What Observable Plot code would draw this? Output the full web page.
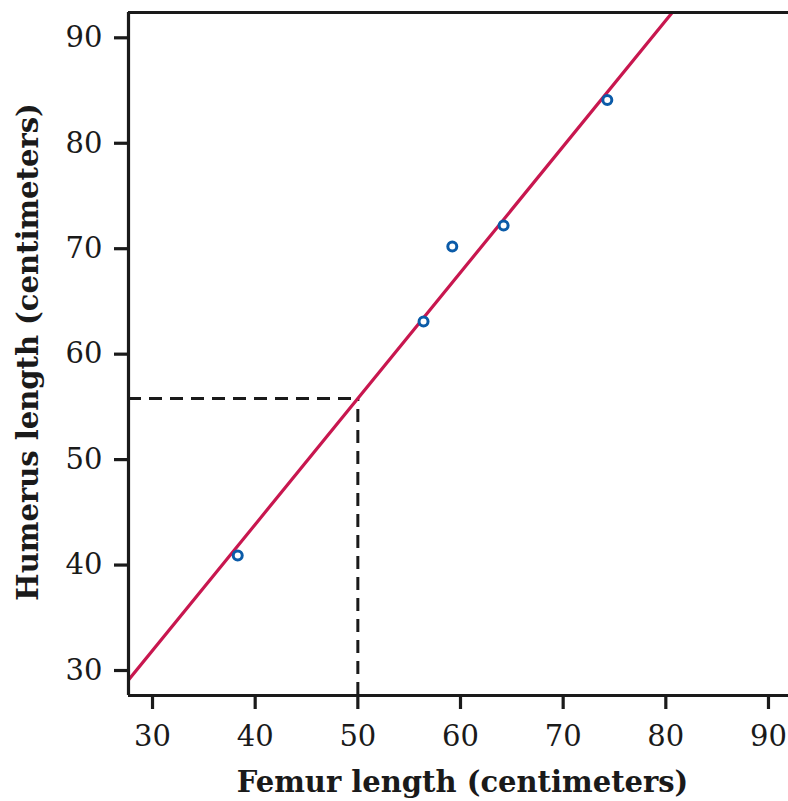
<!DOCTYPE html>
<html>
<head>
<meta charset="utf-8">
<script src="https://cdn.jsdelivr.net/npm/d3@7"></script>
<script src="https://cdn.jsdelivr.net/npm/@observablehq/plot@0.6"></script>
<style>
  html, body { margin: 0; padding: 0; background: #fff; }
</style>
</head>
<body>
<div id="chart"></div>
<script>
// Data
const femur   = [38.3, 56.4, 59.2, 64.2, 74.3];
const humerus = [40.9, 63.1, 70.2, 72.2, 84.1];
const xTicks = [30, 40, 50, 60, 70, 80, 90];
const yTicks = [30, 40, 50, 60, 70, 80, 90];
const xDomain = [27.66, 91.95];
const yDomain = [27.63, 92.40];
const lineSlope = 1.195;
const lineIntercept = -3.95;
const predictX = [50];
const xLabel = "Femur length (centimeters)";
const yLabel = "Humerus length (centimeters)";

const points = femur.map((f, i) => ({femur: f, humerus: humerus[i]}));
const fitLine = xDomain.map(x => ({x, y: lineIntercept + lineSlope * x}));
const predY = predictX.map(x => lineIntercept + lineSlope * x);
const dashV = [{x: predictX[0], y1: yDomain[0], y2: predY[0]}];
const dashH = [{y: predY[0], x1: xDomain[0], x2: predictX[0]}];

const ink = "#1a1a1a";

const chart = Plot.plot({
  width: 788,
  height: 801,
  marginLeft: 128,
  marginTop: 12,
  marginRight: 0,
  marginBottom: 106,
  style: {fontFamily: "'DejaVu Serif', serif", fontSize: "29px", color: ink, background: "#fff"},
  x: {domain: xDomain},
  y: {domain: yDomain},
  marks: [
    Plot.axisX({ticks: xTicks, tickSize: 14, tickPadding: 16, strokeWidth: 3.2, stroke: ink, fill: ink, fontSize: 29, label: null, tickFormat: d => String(d)}),
    Plot.axisY({ticks: yTicks, tickSize: 14, tickPadding: 12, strokeWidth: 3.2, stroke: ink, fill: ink, fontSize: 29, label: null, tickFormat: d => String(d)}),
    Plot.ruleX(dashV, {x: "x", y1: "y1", y2: "y2", stroke: ink, strokeWidth: 3, strokeDasharray: "13,8"}),
    Plot.ruleY(dashH, {y: "y", x1: "x1", x2: "x2", stroke: ink, strokeWidth: 3, strokeDasharray: "13,8"}),
    Plot.line(fitLine, {x: "x", y: "y", stroke: "#c8174f", strokeWidth: 3.2, clip: true}),
    Plot.dot(points, {x: "femur", y: "humerus", r: 4.5, stroke: "#0b5ba8", strokeWidth: 3, fill: "#fff"}),
    Plot.ruleX([xDomain[0]], {stroke: ink, strokeWidth: 3.2}),
    Plot.ruleY([yDomain[0]], {stroke: ink, strokeWidth: 3.2}),
    Plot.ruleY([yDomain[1]], {stroke: ink, strokeWidth: 3.2}),
    Plot.text([xLabel], {text: d => d, frameAnchor: "bottom", dy: 96, dx: 4, fontSize: 29, fontWeight: "bold", fill: ink}),
    Plot.text([yLabel], {text: d => d, frameAnchor: "left", textAnchor: "middle", dx: -100, dy: -2, rotate: -90, fontSize: 29, fontWeight: "bold", fill: ink})
  ]
});
document.getElementById("chart").appendChild(chart);
</script>
</body>
</html>
